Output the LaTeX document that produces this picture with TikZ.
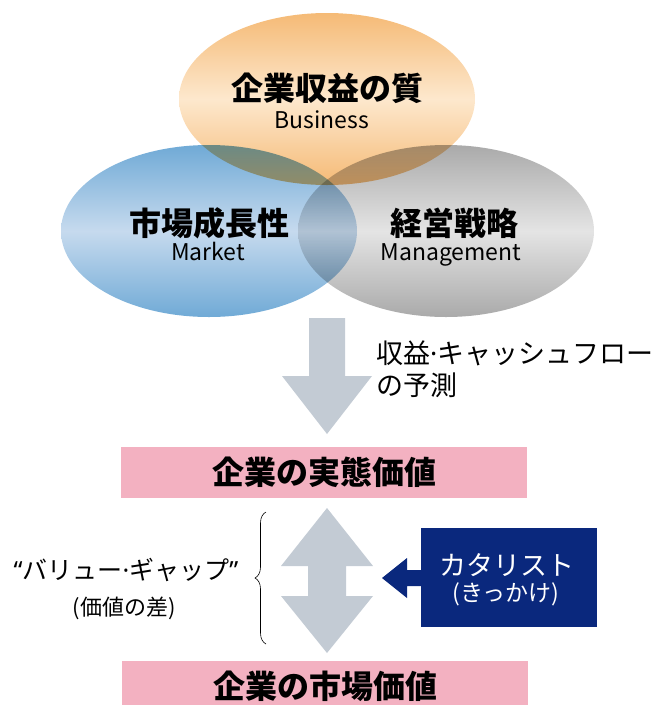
\documentclass[tikz,border=0pt]{standalone}
\usepackage{fontspec}
\setmainfont{Noto Sans CJK JP}
\newfontfamily\quotefont{Noto Sans}
\usetikzlibrary{shapes.geometric,decorations.pathreplacing,positioning}

\definecolor{orangeedge}{RGB}{245,186,118}
\definecolor{orangemid}{RGB}{253,232,205}
\definecolor{blueedge}{RGB}{112,170,214}
\definecolor{bluemid}{RGB}{198,218,238}
\definecolor{grayedge}{RGB}{170,170,170}
\definecolor{graymid}{RGB}{228,228,228}
\definecolor{arrowgray}{RGB}{195,203,212}
\definecolor{boxpink}{RGB}{243,177,193}
\definecolor{catnavy}{RGB}{10,40,125}

\newcommand{\middot}{{\quotefont\bfseries\char"00B7}}

\begin{document}
\begin{tikzpicture}[x=1pt, y=-1pt,
    bubble/.style={ellipse, inner sep=0pt, minimum width=296pt, minimum height=172pt},
    title/.style={anchor=base, inner sep=0pt, font=\fontsize{32}{36}\selectfont\bfseries},
    subtitle/.style={anchor=base, inner sep=0pt, font=\fontsize{23}{26}\selectfont},
    valuebox/.style={fill=boxpink, inner sep=0pt, minimum width=406pt, minimum height=51pt, font=\fontsize{32}{36}\selectfont\bfseries}]
  \useasboundingbox (0,0) rectangle (662,705);

  % three overlapping bubbles
  \begin{scope}[blend group=multiply]
    \node [bubble, top color=orangeedge, bottom color=orangeedge, middle color=orangemid] (business) at (327,99) {};
    \node [bubble, top color=blueedge, bottom color=blueedge, middle color=bluemid] (market) at (209,231) {};
    \node [bubble, top color=grayedge, bottom color=grayedge, middle color=graymid] (management) at (446,231) {};
  \end{scope}
  \node [title] at (327,100) {企業収益の質};
  \node [subtitle] at (322,128) {Business};
  \node [title] at (209,235) {市場成長性};
  \node [subtitle] at (208,260) {Market};
  \node [title] at (454,235) {経営戦略};
  \node [subtitle] at (451,260) {Management};

  % forecast arrow
  \fill [arrowgray] (309,318) -- (345,318) -- (345,376) -- (372,376) -- (327,434) -- (282,376) -- (309,376) -- cycle;
  \node [anchor=base west, inner sep=0pt, align=left, font=\fontsize{27}{32}\selectfont] (forecast) at (376,395) {収益\middot キャッシュフロー\\の予測};

  \node [valuebox] (intrinsic) at (324,472.5) {企業の実態価値};
  \node [valuebox] (marketvalue) at (325,686.5) {企業の市場価値};

  % value gap
  \fill [arrowgray] (327,508) -- (373,566) -- (346,566) -- (346,596) -- (373,596) -- (327,653)
    -- (281,596) -- (308,596) -- (308,566) -- (281,566) -- cycle;
  \draw [semithick, decorate, decoration={brace, amplitude=11pt}] (266,644) -- (266,512);
  \node [anchor=base, inner sep=0pt, font=\fontsize{25}{28}\selectfont] (gap) at (126,579) {{\quotefont “}バリュー\middot ギャップ{\quotefont ”}};
  \node [anchor=base, inner sep=0pt, font=\fontsize{22}{26}\selectfont] (gapnote) at (124,615) {(価値の差)};

  % catalyst
  \fill [catnavy] (382,578) -- (407,558) -- (407,570) -- (425,570) -- (425,586) -- (407,586) -- (407,598) -- cycle;
  \node [fill=catnavy, inner sep=0pt, minimum width=176pt, minimum height=99pt] (catalyst) at (509,577.5) {};
  \node [anchor=base, inner sep=0pt, text=white, font=\fontsize{27}{30}\selectfont] at (507,575) {カタリスト};
  \node [anchor=base, inner sep=0pt, text=white, font=\fontsize{23}{26}\selectfont] at (506,601) {(きっかけ)};
\end{tikzpicture}
\end{document}
